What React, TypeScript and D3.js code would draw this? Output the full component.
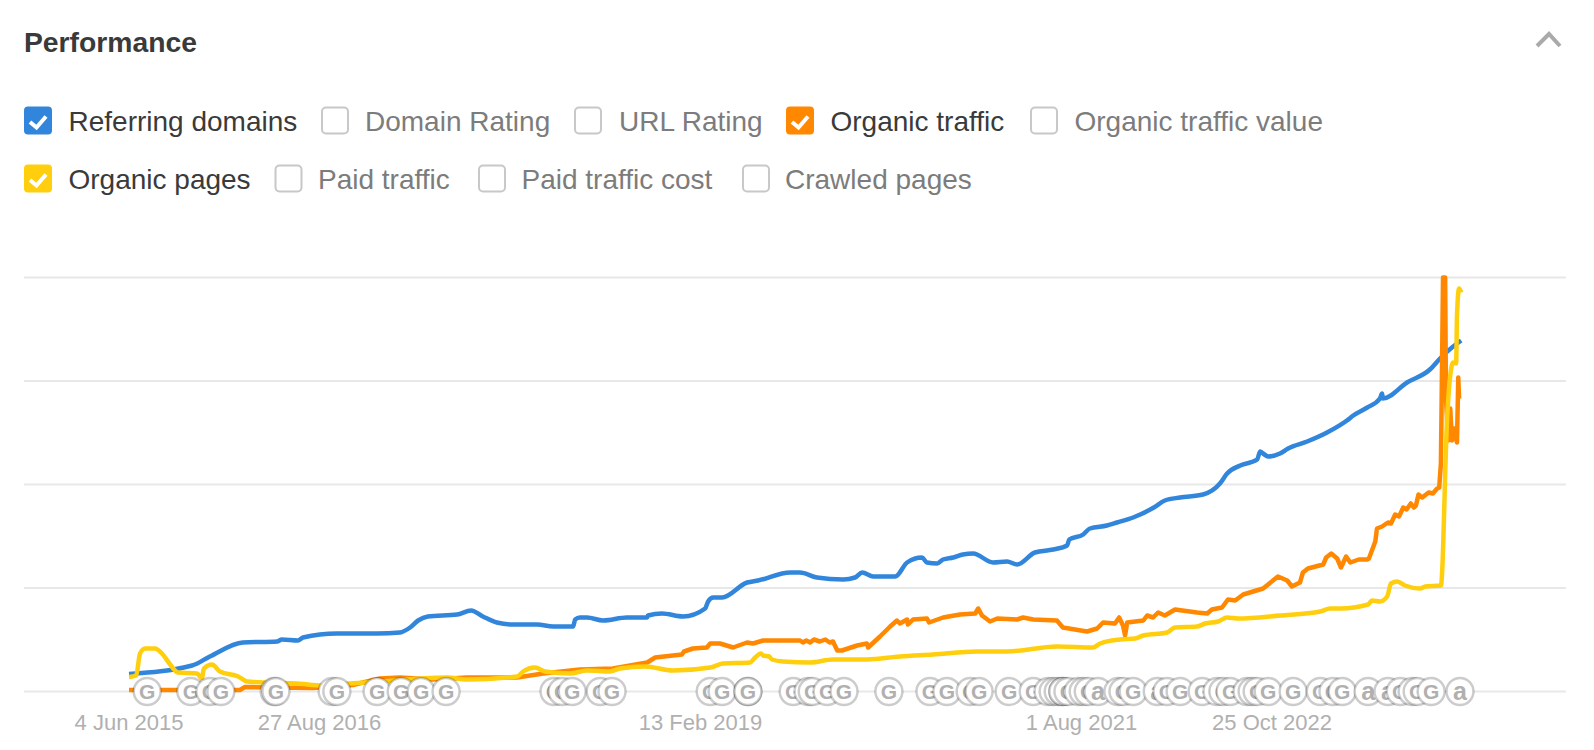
import { useEffect, useRef } from "react";
import * as d3 from "d3";

const START = new Date(Date.UTC(2015, 5, 4));
const tickDays = [0, 450, 1350, 2250, 2700];
const gridValues = [0, 103.5, 207, 310.5, 414];

// days since 4 Jun 2015 / index value
const referringDays = [0, 149, 191, 269, 350, 361, 399, 411, 491, 586, 640, 664, 683, 706, 775, 808, 836, 869, 907, 964, 1002, 1049, 1054, 1065, 1082, 1120, 1176, 1224, 1226, 1259, 1309, 1361, 1368, 1380, 1401, 1460, 1486, 1562, 1585, 1625, 1687, 1715, 1732, 1758, 1810, 1838, 1873, 1885, 1909, 1923, 1947, 1970, 1994, 2041, 2074, 2098, 2140, 2183, 2216, 2221, 2254, 2270, 2310, 2334, 2372, 2421, 2447, 2483, 2537, 2577, 2594, 2625, 2665, 2672, 2679, 2691, 2719, 2738, 2783, 2830, 2877, 2892, 2925, 2955, 2960, 2962, 3019, 3073, 3097, 3137, 3147];
const referringValues = [17.5, 26, 35, 49, 50, 52, 51, 54, 58, 58, 59, 64, 71, 75, 77, 81, 75, 69, 67, 67, 65, 65, 72, 74, 74, 71, 74, 74, 76, 78, 75, 83, 90, 94, 94, 109, 111, 119, 119, 114, 112, 114, 119, 115, 115, 129, 134, 129, 128, 132, 134, 137, 138, 129, 130, 127, 139, 142, 146, 152, 157, 163, 166, 169, 174, 184, 191, 194, 197, 208, 218, 226, 232, 240, 238, 235, 238, 243, 250, 259, 271, 276, 284, 293, 298, 293, 309, 322, 333, 348, 351];

const trafficDays = [0, 262, 274, 435, 529, 562, 593, 640, 718, 798, 917, 978, 1065, 1143, 1224, 1243, 1306, 1311, 1332, 1365, 1373, 1396, 1427, 1460, 1474, 1498, 1545, 1585, 1592, 1600, 1609, 1618, 1632, 1645, 1655, 1663, 1673, 1684, 1720, 1743, 1746, 1774, 1798, 1814, 1821, 1838, 1840, 1852, 1885, 1890, 1923, 1963, 1999, 2006, 2015, 2034, 2051, 2098, 2112, 2136, 2192, 2206, 2263, 2287, 2301, 2329, 2339, 2348, 2353, 2358, 2396, 2405, 2419, 2431, 2447, 2471, 2523, 2547, 2558, 2582, 2596, 2613, 2632, 2679, 2714, 2736, 2747, 2766, 2773, 2785, 2821, 2828, 2840, 2854, 2863, 2875, 2885, 2905, 2925, 2929, 2944, 2948, 2960, 2974, 2981, 2991, 3000, 3010, 3018, 3028, 3035, 3040, 3046, 3055, 3070, 3080, 3090, 3095, 3099, 3104, 3109, 3111, 3116, 3121, 3125, 3130, 3137, 3140, 3142];
const trafficValues = [1.5, 1.5, 4.5, 3.5, 6.5, 10, 13, 14, 12, 14, 14, 18, 22, 23, 29, 34, 37, 40, 43, 44, 48, 48, 44, 49, 48, 51, 51, 51, 49, 51, 49, 52, 50, 52, 49, 50, 41, 41, 46, 48, 44, 55, 65, 71, 68, 72, 67, 72, 73, 69, 74, 77, 78, 83, 76, 70, 73, 72, 74, 72, 71, 64, 60, 63, 69, 68, 74, 66, 56, 69, 71, 76, 74, 79, 76, 82, 79, 78, 82, 84, 92, 91, 97, 103, 115, 111, 105, 109, 119, 123, 127, 134, 138, 133, 124, 135, 129, 132, 132, 133, 150, 163, 165, 169, 168, 177, 175, 184, 182, 188, 184, 186, 197, 194, 199, 198, 203, 204, 228, 414, 414, 293, 251, 283, 251, 263, 249, 314, 293];

const pagesDays = [0, 17, 26, 38, 61, 78, 92, 116, 161, 172, 177, 196, 215, 258, 279, 317, 397, 458, 522, 562, 751, 798, 917, 931, 959, 983, 1042, 1082, 1136, 1160, 1219, 1285, 1373, 1403, 1467, 1479, 1493, 1498, 1512, 1519, 1545, 1609, 1663, 1743, 1821, 1899, 2003, 2074, 2192, 2277, 2294, 2341, 2377, 2396, 2452, 2471, 2523, 2542, 2573, 2594, 2620, 2719, 2814, 2837, 2861, 2927, 2936, 2955, 2972, 2981, 2996, 3014, 3050, 3062, 3099, 3114, 3121, 3128, 3135, 3137, 3142, 3147];
const pagesValues = [14.5, 16, 38, 43, 43, 38, 30, 19, 18, 13, 23, 27, 20, 15, 10, 9, 8, 6, 8, 9, 14, 12, 15, 20, 24, 20, 18, 21, 20, 23, 25, 21, 24, 28, 29, 34, 38, 36, 35, 32, 30, 29, 32, 32, 35, 37, 40, 40, 45, 44, 48, 52, 53, 56, 59, 64, 65, 68, 70, 74, 73, 76, 80, 83, 83, 87, 91, 90, 95, 108, 110, 106, 103, 105, 106, 276, 316, 329, 328, 376, 403, 399];

const markerDays = [43, 146, 191, 217, 343, 347, 480, 491, 586, 643, 690, 749, 1004, 1023, 1047, 1113, 1141, 1373, 1401, 1462, 1462, 1569, 1604, 1614, 1649, 1689, 1795, 1892, 1932, 1987, 2008, 2079, 2136, 2171, 2183, 2195, 2206, 2206, 2218, 2242, 2254, 2266, 2289, 2336, 2348, 2372, 2429, 2452, 2483, 2535, 2570, 2584, 2601, 2641, 2653, 2665, 2691, 2750, 2814, 2844, 2866, 2927, 2974, 3003, 3031, 3043, 3076, 3144];
const markerLetters = ["G", "G", "G", "G", "G", "G", "G", "G", "G", "G", "G", "G", "G", "G", "G", "G", "G", "G", "G", "G", "G", "G", "G", "G", "G", "G", "G", "G", "G", "G", "G", "G", "G", "G", "G", "G", "G", "G", "G", "G", "G", "G", "a", "G", "G", "G", "a", "G", "G", "G", "G", "G", "G", "G", "G", "G", "G", "G", "G", "G", "G", "a", "a", "G", "G", "G", "G", "a"];

const legendRow1 = [
  { label: "Referring domains", color: "#3186dc", box: 24, text: 68.5 },
  { label: "Domain Rating", color: "", box: 321, text: 365 },
  { label: "URL Rating", color: "", box: 574, text: 619 },
  { label: "Organic traffic", color: "#ff8800", box: 786, text: 830.5 },
  { label: "Organic traffic value", color: "", box: 1030, text: 1074.5 },
];
const legendRow2 = [
  { label: "Organic pages", color: "#ffcf0d", box: 24, text: 68.5 },
  { label: "Paid traffic", color: "", box: 274.5, text: 318 },
  { label: "Paid traffic cost", color: "", box: 478, text: 521.5 },
  { label: "Crawled pages", color: "", box: 742, text: 785 },
];

const FONT = "'Liberation Sans', Arial, sans-serif";

export default function App() {
  const svgRef = useRef<SVGSVGElement>(null);

  useEffect(() => {
    if (!svgRef.current) return;
    const svg = d3.select(svgRef.current);
    svg.selectAll("*").remove();
    svg.attr("font-family", FONT).style("font-variant-ligatures", "none");

    const dayToDate = (d: number) => d3.utcDay.offset(START, d);
    const x = d3
      .scaleUtc()
      .domain([START, dayToDate(2700)])
      .range([129, 1272]);
    const y = d3.scaleLinear().domain([0, 414]).range([691.5, 277.5]);

    svg
      .append("text")
      .attr("x", 24)
      .attr("y", 52)
      .attr("font-size", 28.3)
      .attr("font-weight", 700)
      .attr("fill", "#3a3a3a")
      .text("Performance");

    svg
      .append("path")
      .attr("d", "M1537,46L1549,34L1560,46")
      .attr("fill", "none")
      .attr("stroke", "#aaa")
      .attr("stroke-width", 4);

    // Casillas de la leyenda
    const drawLegend = (items: typeof legendRow1, cy: number) => {
      const g = svg.append("g");
      items.forEach((it) => {
        g.append("rect")
          .attr("x", it.color ? it.box : it.box + 1)
          .attr("y", it.color ? cy - 14 : cy - 13)
          .attr("width", it.color ? 28 : 26)
          .attr("height", it.color ? 28 : 26)
          .attr("rx", 4)
          .attr("fill", it.color || "#fff")
          .attr("stroke", it.color ? "none" : "#c8c8c8")
          .attr("stroke-width", 2);
        if (it.color) {
          g.append("path")
            .attr("d", `M${it.box + 6},${cy + 1.5}L${it.box + 12.5},${cy + 7}L${it.box + 22},${cy - 4}`)
            .attr("fill", "none")
            .attr("stroke", "#fff")
            .attr("stroke-width", 4);
        }
        g.append("text")
          .attr("x", it.text)
          .attr("y", cy + 10)
          .attr("font-size", 28)
          .attr("fill", it.color ? "#3a3a3a" : "#7c7c7c")
          .text(it.label);
      });
    };
    drawLegend(legendRow1, 120.5);
    drawLegend(legendRow2, 178.5);

    svg
      .append("g")
      .selectAll("line")
      .data(gridValues)
      .enter()
      .append("line")
      .attr("x1", 24)
      .attr("x2", 1566)
      .attr("y1", (d) => y(d))
      .attr("y2", (d) => y(d))
      .attr("stroke", "#e8e8e8")
      .attr("stroke-width", 2);

    const line = d3
      .line<[number, number]>()
      .x((d) => x(dayToDate(d[0])))
      .y((d) => y(d[1]));

    const series: [number[], number[], string, number, d3.CurveFactory][] = [
      [referringDays, referringValues, "#3186dc", 4.5, d3.curveMonotoneX],
      [trafficDays, trafficValues, "#ff8800", 4.5, d3.curveLinear],
      [pagesDays, pagesValues, "#ffcf0d", 4.5, d3.curveMonotoneX],
    ];
    series.forEach(([days, values, color, width, curve]) => {
      svg
        .append("path")
        .datum(d3.zip(days, values) as [number, number][])
        .attr("d", line.curve(curve))
        .attr("fill", "none")
        .attr("stroke", color)
        .attr("stroke-width", width)
        .attr("stroke-linejoin", "round");
    });

    // Marcadores de actualizaciones sobre la línea base
    const marks = svg
      .append("g")
      .selectAll("g")
      .data(markerDays.map((d, i) => ({ day: d, letter: markerLetters[i] })))
      .enter()
      .append("g")
      .attr("transform", (d) => `translate(${x(dayToDate(d.day))},${y(0)})`);
    marks
      .append("circle")
      .attr("r", 13.5)
      .attr("fill", "#fff")
      .attr("stroke", "#000")
      .attr("stroke-opacity", 0.2)
      .attr("stroke-width", 2.5);
    marks
      .append("text")
      .attr("text-anchor", "middle")
      .attr("y", (d) => (d.letter === "a" ? 8 : 7.5))
      .attr("font-size", (d) => (d.letter === "a" ? 25 : 21))
      .attr("font-weight", 700)
      .attr("fill", "#b0b0b0")
      .text((d) => d.letter);

    const fmt = d3.utcFormat("%-d %b %Y");
    svg
      .append("g")
      .selectAll("text")
      .data(tickDays)
      .enter()
      .append("text")
      .attr("x", (d) => x(dayToDate(d)))
      .attr("y", 730)
      .attr("text-anchor", "middle")
      .attr("font-size", 22)
      .attr("fill", "#b0b0b0")
      .text((d) => fmt(dayToDate(d)));
  }, []);

  return <svg ref={svgRef} width={1594} height={750} style={{ position: "absolute", left: 0, top: 0 }} />;
}
